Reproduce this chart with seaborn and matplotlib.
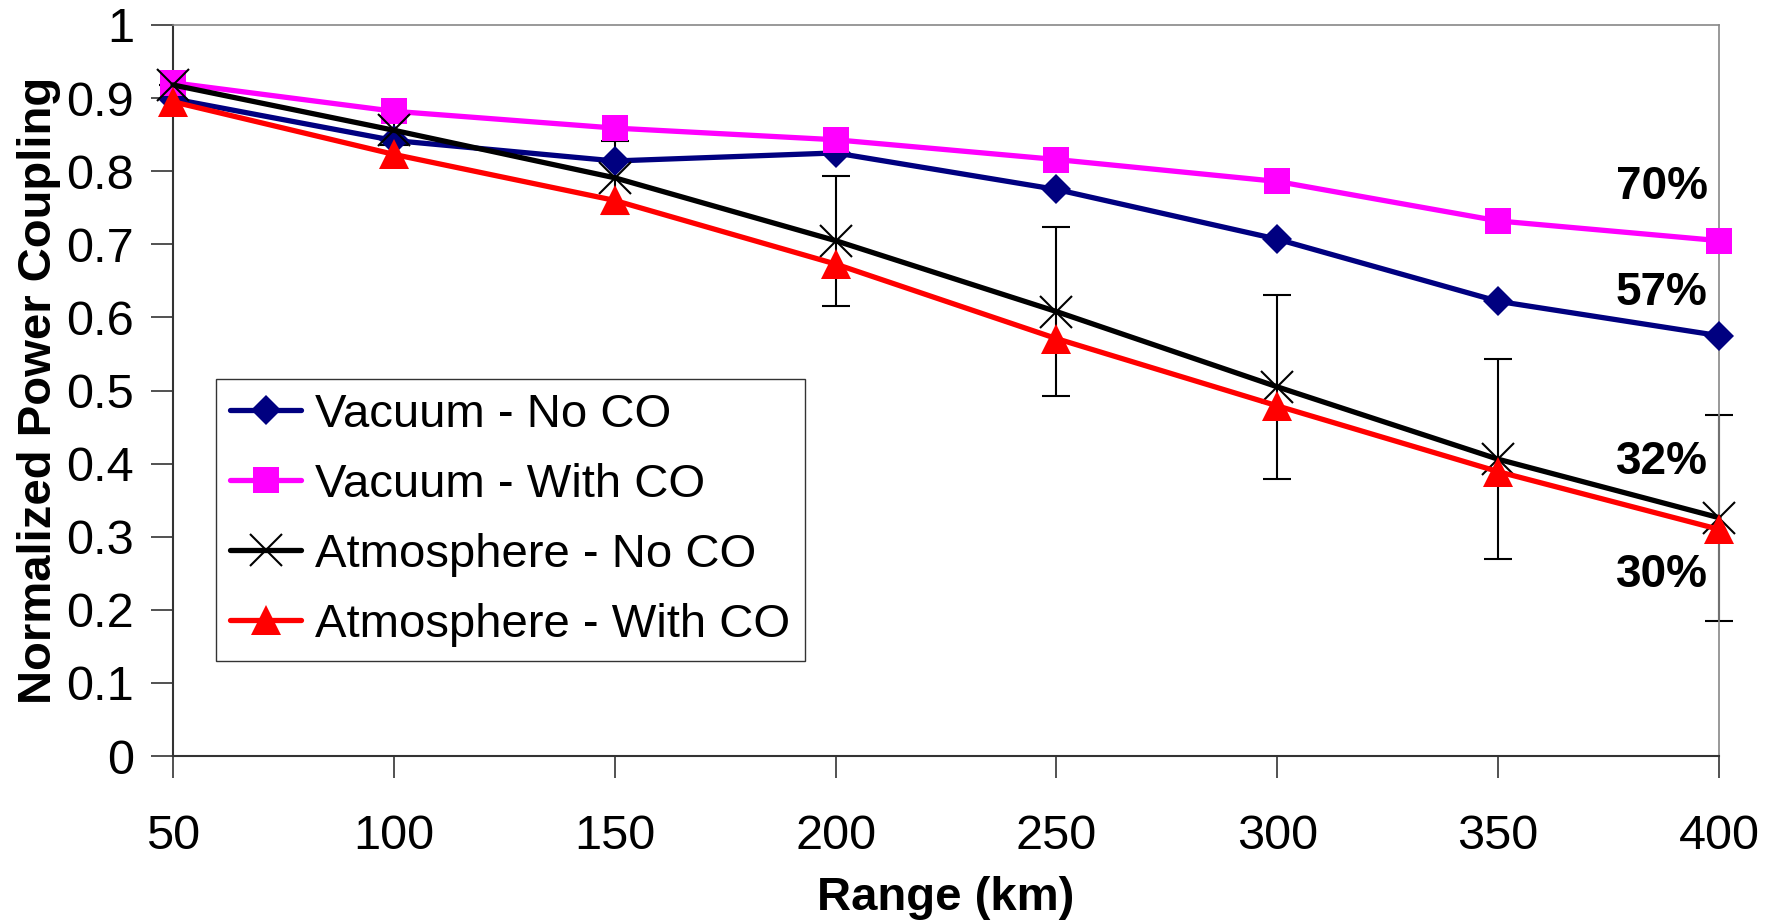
import numpy as np
import pandas as pd
import matplotlib
matplotlib.use("Agg")
import matplotlib.pyplot as plt
import seaborn as sns

# data
ranges = [50, 100, 150, 200, 250, 300, 350, 400]
vac_no_co = [0.899, 0.842, 0.814, 0.825, 0.775, 0.707, 0.622, 0.575]
vac_with_co = [0.921, 0.882, 0.859, 0.843, 0.816, 0.786, 0.732, 0.705]
atm_no_co = [0.918, 0.856, 0.791, 0.705, 0.608, 0.505, 0.406, 0.326]
atm_with_co = [0.895, 0.823, 0.760, 0.673, 0.571, 0.479, 0.389, 0.310]
atm_no_co_err = [0.0, 0.02, 0.05, 0.089, 0.115, 0.126, 0.137, 0.141]

series_names = ["Vacuum - No CO", "Vacuum - With CO",
                "Atmosphere - No CO", "Atmosphere - With CO"]
end_labels = ["70%", "57%", "32%", "30%"]
end_label_y = [0.778, 0.634, 0.402, 0.248]

df = pd.DataFrame({
    "range": ranges * 4,
    "value": vac_no_co + vac_with_co + atm_no_co + atm_with_co,
    "series": np.repeat(series_names, len(ranges)),
})

sns.set_style("white")
plt.rcParams['font.family'] = ['Liberation Sans', 'DejaVu Sans']
plt.rcParams.update({"text.color": "black", "axes.labelcolor": "black",
                     "xtick.color": "black", "ytick.color": "black"})

fig = plt.figure(figsize=(17.77, 9.24), dpi=100)
ax = fig.add_axes([173 / 1777, 1 - 756 / 924, 1546 / 1777, 731 / 924])

styles = {
    "Vacuum - No CO": dict(color="#000080", marker="D", ms=15, mew=0),
    "Vacuum - With CO": dict(color="#FF00FF", marker="s", ms=19, mew=0),
    "Atmosphere - No CO": dict(color="black", marker="x", ms=23, mew=1.5),
    "Atmosphere - With CO": dict(color="#FF0000", marker="^", ms=22, mew=0),
}

# error bars drawn first so the lines sit on top
eb = ax.errorbar(ranges, atm_no_co, yerr=atm_no_co_err, fmt="none",
                 ecolor="black", elinewidth=1.5, capsize=10, capthick=1.5,
                 zorder=1)
for art in eb.lines[1] + eb.lines[2]:
    art.set_clip_on(False)

for name in series_names:
    st = styles[name]
    sub = df[df["series"] == name]
    sns.lineplot(data=sub, x="range", y="value", ax=ax, color=st["color"],
                 linewidth=3.8, marker=st["marker"], markersize=st["ms"],
                 markeredgewidth=st["mew"], markeredgecolor=st["color"],
                 label=name, zorder=3, clip_on=False)

for lab, yv in zip(end_labels, end_label_y):
    ax.text(387, yv, lab, ha="center", va="center", fontsize=33,
            fontweight="bold")

ax.set_xlim(50, 400)
ax.set_ylim(0, 1)
ax.set_xticks(ranges)
ax.set_yticks(np.round(np.arange(0, 1.01, 0.1), 1))
ax.set_yticklabels(["0", "0.1", "0.2", "0.3", "0.4", "0.5", "0.6", "0.7",
                    "0.8", "0.9", "1"])
ax.tick_params(axis="both", direction="out", length=16, width=1.2,
               color="#333333", labelsize=35, bottom=True, left=True)
ax.tick_params(axis="x", pad=26)
ax.tick_params(axis="y", pad=12)

for side in ["left", "bottom"]:
    ax.spines[side].set_color("#333333")
    ax.spines[side].set_linewidth(1.5)
for side in ["top", "right"]:
    ax.spines[side].set_color("#888888")
    ax.spines[side].set_linewidth(1.2)

ax.set_xlabel("Range (km)", fontsize=34, fontweight="bold", labelpad=12)
ax.set_ylabel("Normalized Power Coupling", fontsize=34, fontweight="bold",
              labelpad=4)

leg = ax.legend(loc="lower left", bbox_to_anchor=(0.028, 0.13), fontsize=34,
                frameon=True, fancybox=False, edgecolor="black",
                handlelength=1.5, labelspacing=0.55, borderpad=0.3,
                handletextpad=0.3, borderaxespad=0)
leg.get_frame().set_linewidth(1.0)

fig.savefig("out.png", dpi=100)
